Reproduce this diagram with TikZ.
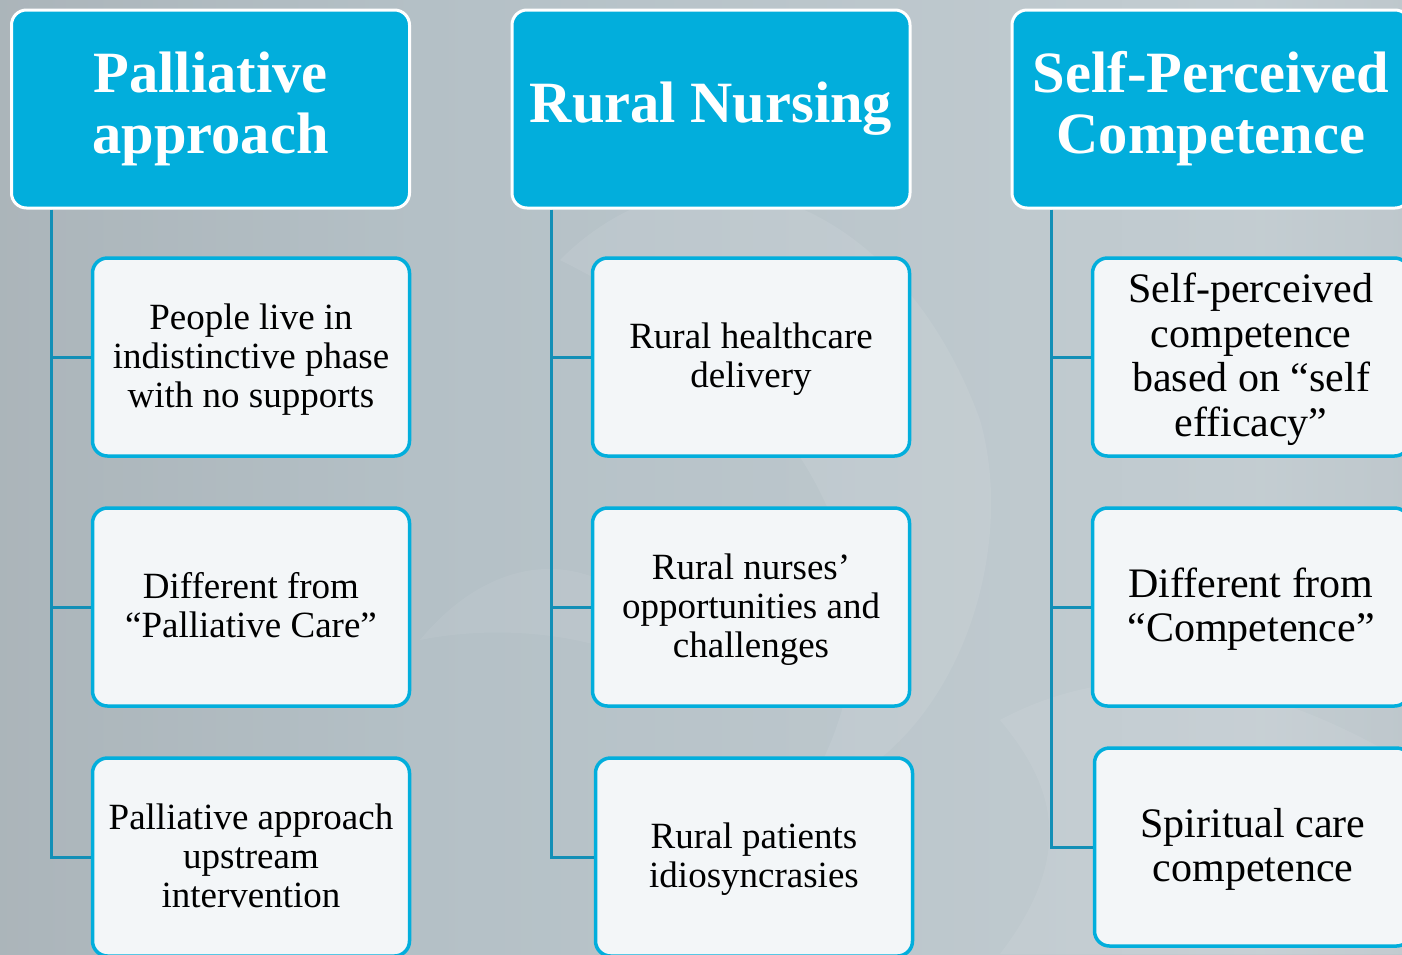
\documentclass[tikz,border=0pt]{standalone}
\usepackage{fontspec}
\setmainfont{Liberation Serif}
\definecolor{hdr}{HTML}{02AEDC}
\definecolor{boxfill}{HTML}{F3F6F8}
\definecolor{conncol}{HTML}{138FB6}
\definecolor{bgA}{HTML}{9DA2A6}
\definecolor{bgB}{HTML}{B4C0C6}
\definecolor{bgC}{HTML}{A6ADB2}
\pgfdeclarehorizontalshading{bgshade}{100bp}{color(0bp)=(bgA); color(40bp)=(bgB); color(70bp)=(bgB!80!white); color(100bp)=(bgC)}
\newcommand{\lowtxt}[1]{\raisebox{-3.5pt}[\height][\depth]{\begin{tabular}{@{}c@{}}#1\end{tabular}}}
\tikzset{
  header/.style={draw=white, line width=3pt, fill=hdr, rounded corners=15pt,
    minimum width=398pt, minimum height=198pt, inner sep=0pt, text=white,
    align=center, font=\bfseries\fontsize{58.5}{61}\selectfont},
  child/.style={draw=hdr, line width=3.5pt, fill=boxfill, rounded corners=15pt,
    minimum width=317pt, minimum height=198pt, inner sep=0pt, text=black,
    align=center, font=\fontsize{37}{39}\selectfont},
  childbig/.style={child, font=\fontsize{42}{44.5}\selectfont},
  conn/.style={draw=conncol, line width=3pt}
}
\begin{document}
\begin{tikzpicture}[x=1pt,y=-1pt]
\useasboundingbox (0,0) rectangle (1402,954);
\clip (0,0) rectangle (1402,954);
\shade[shading=bgshade] (0,0) rectangle (1402,954);
% faint background swirls
\fill[white,opacity=0.08] (560,260) .. controls (700,120) and (900,200) .. (980,420) .. controls (1020,560) and (950,760) .. (800,800) .. controls (900,650) and (880,420) .. (560,260) -- cycle;
\fill[white,opacity=0.07] (1000,720) .. controls (1150,640) and (1300,700) .. (1402,760) -- (1402,954) -- (1000,954) .. controls (1080,850) and (1050,780) .. (1000,720) -- cycle;
\fill[white,opacity=0.06] (420,640) .. controls (520,520) and (650,560) .. (700,700) .. controls (640,640) and (520,620) .. (420,640) -- cycle;

% headers
\node[header] (h1) at (210.5,109) {Palliative\\approach};
\node[header] (h2) at (711,109) {Rural Nursing};
\node[header] (h3) at (1211,109) {Self-Perceived\\Competence};

% column 1
\node[child] (c11) at (251,357) {\lowtxt{People live in\\indistinctive phase\\with no supports}};
\node[child] (c12) at (251,607) {\lowtxt{Different from\\“Palliative Care”}};
\node[child] (c13) at (251,857) {\lowtxt{Palliative approach\\upstream\\intervention}};

% column 2
\node[child] (c21) at (751,357) {\lowtxt{Rural healthcare\\delivery}};
\node[child] (c22) at (751,607) {\lowtxt{Rural nurses’\\opportunities and\\challenges}};
\node[child] (c23) at (754,857) {\lowtxt{Rural patients\\idiosyncrasies}};

% column 3
\node[childbig] (c31) at (1251,357) {\lowtxt{Self-perceived\\competence\\based on “self\\efficacy”}};
\node[childbig] (c32) at (1251,607) {\lowtxt{Different from\\“Competence”}};
\node[childbig] (c33) at (1253,847) {\lowtxt{Spiritual care\\competence}};

% connectors
\draw[conn] ([xshift=41pt]h1.south west) |- (c13.west);
\draw[conn] ([xshift=41pt]h1.south west |- c11.west) -- (c11.west);
\draw[conn] ([xshift=41pt]h1.south west |- c12.west) -- (c12.west);

\draw[conn] ([xshift=41pt]h2.south west) |- (c23.west);
\draw[conn] ([xshift=41pt]h2.south west |- c21.west) -- (c21.west);
\draw[conn] ([xshift=41pt]h2.south west |- c22.west) -- (c22.west);

\draw[conn] ([xshift=41pt]h3.south west) |- (c33.west);
\draw[conn] ([xshift=41pt]h3.south west |- c31.west) -- (c31.west);
\draw[conn] ([xshift=41pt]h3.south west |- c32.west) -- (c32.west);
\end{tikzpicture}
\end{document}
